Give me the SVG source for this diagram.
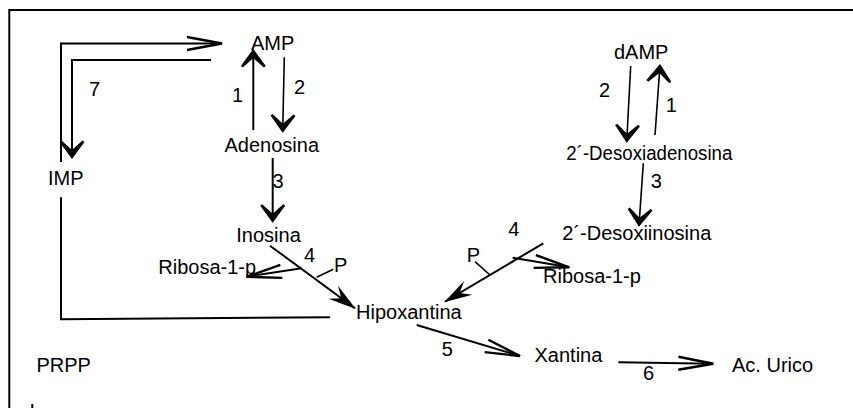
<svg xmlns="http://www.w3.org/2000/svg" width="853" height="408" viewBox="0 0 853 408">
  <style>
    text { font-family: "Liberation Sans", Arial, sans-serif; font-size: 20px; fill: #000; }
    .ln { fill: none; stroke: #000; stroke-width: 2; }
    .thin { stroke-width: 1.6; }
    .frame { fill: none; stroke: #000; stroke-width: 2; }
  </style>
  <defs>
    <!-- heavy chevron head (steps 1, 2, 3, 7 down) -->
    <marker id="bold" markerUnits="userSpaceOnUse" orient="auto" refX="0" refY="0" markerWidth="40" markerHeight="40" viewBox="-20 -20 40 40" overflow="visible">
      <path d="M1,0 L-16,-12.5 L-17.5,-10.5 L-8,0 L-17.5,10.5 L-16,12.5 Z" fill="#000"/>
    </marker>
    <!-- filled dart head (step 4 into Hipoxantina) -->
    <marker id="dart" markerUnits="userSpaceOnUse" orient="auto" refX="0" refY="0" markerWidth="60" markerHeight="60" viewBox="-30 -30 60 60" overflow="visible">
      <path d="M1,0 L-27,-8 L-17,0 L-27,8 Z" fill="#000"/>
    </marker>
    <!-- long open head (steps 5, 6, 7 up, ribose release) -->
    <marker id="open" markerUnits="userSpaceOnUse" orient="auto" refX="0" refY="0" markerWidth="80" markerHeight="80" viewBox="-40 -40 80 80" overflow="visible">
      <path d="M-35,-6.5 L0,0 L-35,6.5" fill="none" stroke="#000" stroke-width="2.4" stroke-linejoin="miter"/>
    </marker>
  </defs>

  <rect width="853" height="408" fill="#fff"/>

  <!-- outer frame -->
  <path class="frame" d="M9.3,408 V10 H853"/>
  <path class="frame" stroke-width="1.5" d="M32.3,404 V408"/>

  <g id="connectors">
    <!-- 7: IMP <-> AMP -->
    <path class="ln" d="M61,162 V43.5 H222" marker-end="url(#open)"/>
    <path class="ln" d="M211,60 H72 V158" marker-end="url(#bold)"/>
    <!-- 1 / 2: AMP <-> Adenosina -->
    <path class="ln" d="M253.3,130 V50" marker-end="url(#bold)"/>
    <path class="ln thin" d="M284.3,57.3 L282.7,131.7" marker-end="url(#bold)"/>
    <!-- 3: Adenosina -> Inosina -->
    <path class="ln" d="M272.7,158 V221.7" marker-end="url(#bold)"/>
    <!-- 4: Inosina -> Hipoxantina -->
    <path class="ln" d="M270,245.7 L355,308.3" marker-end="url(#dart)"/>
    <path class="ln thin" d="M316.7,277.3 L333.3,269.3"/>
    <path class="ln" d="M301.7,268.3 L246.7,276.7" marker-end="url(#open)"/>
    <!-- IMP / Hipoxantina salvage line -->
    <path class="ln" d="M61,197.3 V319.3 L330,317.3"/>
    <!-- 4: 2'-Desoxiinosina -> Hipoxantina -->
    <path class="ln" d="M543.3,243.3 L445,301.7" marker-end="url(#dart)"/>
    <path class="ln thin" d="M490,275 L475,261.7"/>
    <path class="ln" d="M512.7,257.7 L569.3,267.3" marker-end="url(#open)"/>
    <!-- 1 / 2: dAMP <-> 2'-Desoxiadenosina -->
    <path class="ln thin" d="M630.7,66 L626.7,141.7" marker-end="url(#bold)"/>
    <path class="ln thin" d="M655,135 L660,65" marker-end="url(#bold)"/>
    <!-- 3: 2'-Desoxiadenosina -> 2'-Desoxiinosina -->
    <path class="ln thin" d="M643.3,163.3 L639,225.7" marker-end="url(#bold)"/>
    <!-- 5 / 6: oxidation to uric acid -->
    <path class="ln" d="M416.7,325 L520,356" marker-end="url(#open)"/>
    <path class="ln" d="M618.3,362.3 L713.3,363.8" marker-end="url(#open)"/>
  </g>

  <g id="edge-labels">
    <text x="89" y="96">7</text>
    <text x="232" y="101.7">1</text>
    <text x="294" y="94">2</text>
    <text x="272.5" y="188">3</text>
    <text x="304" y="261.7">4</text>
    <text x="334" y="271.7">P</text>
    <text x="599" y="96.7">2</text>
    <text x="665.7" y="111.7">1</text>
    <text x="650.7" y="188.3">3</text>
    <text x="508.3" y="236">4</text>
    <text x="466.7" y="261.7">P</text>
    <text x="441.7" y="355.7">5</text>
    <text x="643" y="380">6</text>
  </g>

  <g id="amp"><text x="251" y="50">AMP</text></g>
  <g id="adenosina"><text x="224.5" y="151.7">Adenosina</text></g>
  <g id="imp"><text x="48" y="185">IMP</text></g>
  <g id="inosina"><text x="236.3" y="242.3">Inosina</text></g>
  <g id="ribosa-1"><text x="158.3" y="274.3">Ribosa-1-p</text></g>
  <g id="hipoxantina"><text x="356" y="319.3">Hipoxantina</text></g>
  <g id="prpp"><text x="36.5" y="371.7">PRPP</text></g>
  <g id="damp"><text x="614" y="59.3">dAMP</text></g>
  <g id="desoxiadenosina"><text x="566.3" y="160" textLength="166" lengthAdjust="spacingAndGlyphs">2´-Desoxiadenosina</text></g>
  <g id="desoxiinosina"><text x="562.3" y="240">2´-Desoxiinosina</text></g>
  <g id="ribosa-2"><text x="543" y="283.3">Ribosa-1-p</text></g>
  <g id="xantina"><text x="534.5" y="361.7">Xantina</text></g>
  <g id="ac-urico"><text x="732" y="371.7">Ac. Urico</text></g>
</svg>
